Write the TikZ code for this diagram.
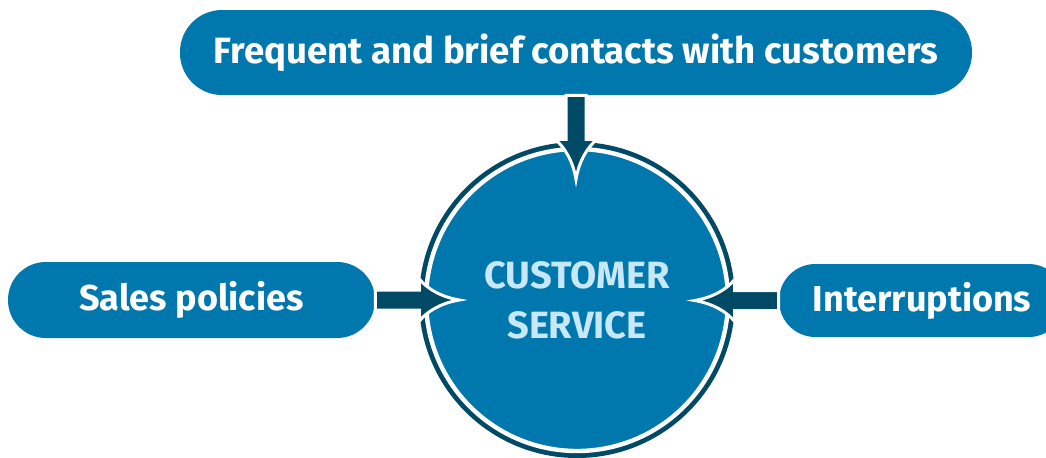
\documentclass[tikz,border=0pt]{standalone}
\usepackage{fontspec}
\setmainfont{Fira Sans}
\usetikzlibrary{calc}

\definecolor{csblue}{HTML}{0077AD}
\definecolor{csdark}{HTML}{004A66}
\definecolor{cslight}{HTML}{C6E8F8}

\tikzset{
	pill/.style={fill=csblue, text=white, inner sep=0pt,
		font=\bfseries\fontsize{18}{20}\selectfont},
	feed/.style={fill=csdark, draw=white, line width=1.5pt},
}

% #1 start, #2 direction
\newcommand\feedarrow[2]{%
	\draw[feed, shift={(#1)}, rotate=#2] (0,-10) -- (44,-10) -- (44,-21)
		.. controls (52,-11) and (66,-3) .. (84,0)
		.. controls (66,3) and (52,11) .. (44,21) -- (44,10) -- (0,10) -- cycle;}

\begin{document}
\begin{tikzpicture}[x=0.5pt,y=-0.5pt]
	\useasboundingbox (0,0) rectangle (1046,457);

	\node[pill, font=\bfseries\fontsize{18.3}{20}\selectfont, minimum width=396pt, minimum height=42.5pt, rounded corners=21pt] (contacts) at (576,52.5) {Frequent and brief contacts with customers};
	\node[pill, minimum width=183.5pt, minimum height=38pt, rounded corners=18.9pt] (sales) at (191.5,300) {Sales policies};
	\node[pill, minimum width=143pt, minimum height=36.5pt, rounded corners=18.2pt] (interrupt) at (922,300.5) {Interruptions};

	\node[circle, minimum size=151pt, inner sep=0pt, fill=csblue, draw=white, line width=2.2pt,
		preaction={draw=csdark, line width=7pt},
		text=cslight, align=center, font=\bfseries\fontsize{19}{25}\selectfont] (service) at (577,300) {CUSTOMER\\SERVICE};

	\feedarrow{contacts.south}{-90}
	\feedarrow{sales.east}{0}
	\feedarrow{interrupt.west}{180}
\end{tikzpicture}
\end{document}
